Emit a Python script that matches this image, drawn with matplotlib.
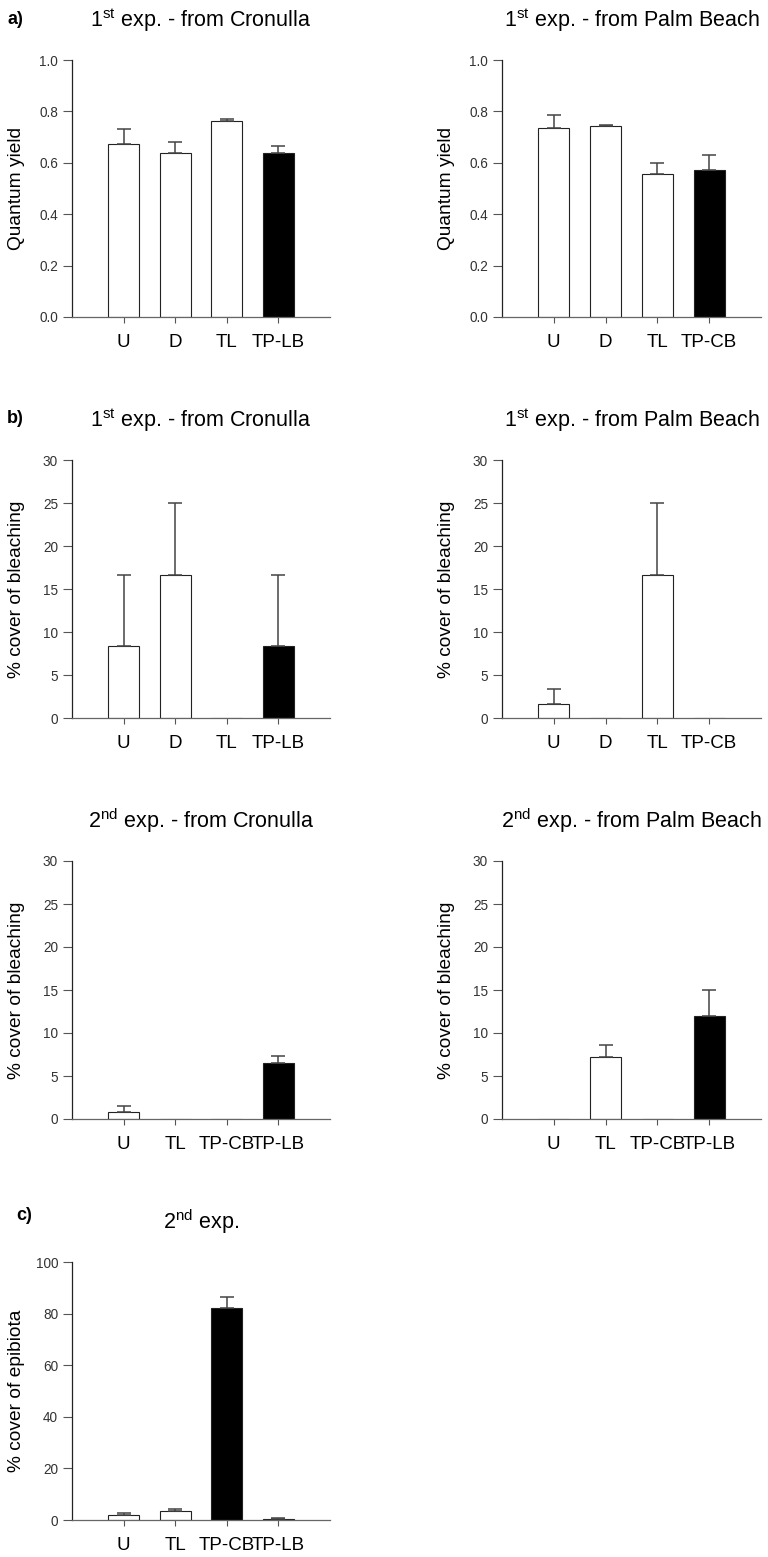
import numpy as np
import matplotlib
matplotlib.use("Agg")
import matplotlib.pyplot as plt

plt.rcParams["font.family"] = ["Liberation Sans", "DejaVu Sans"]
plt.rcParams["mathtext.fontset"] = "custom"
plt.rcParams["mathtext.rm"] = "Liberation Sans"

W, H = 768, 1557

# ---- data ----
a_cron_labels = ["U", "D", "TL", "TP-LB"]
a_cron_mean   = [0.674, 0.638, 0.762, 0.638]
a_cron_se     = [0.056, 0.044, 0.008, 0.028]

a_palm_labels = ["U", "D", "TL", "TP-CB"]
a_palm_mean   = [0.734, 0.745, 0.558, 0.571]
a_palm_se     = [0.053, 0.003, 0.042, 0.058]

b1_cron_labels = ["U", "D", "TL", "TP-LB"]
b1_cron_mean   = [8.33, 16.67, 0.0, 8.33]
b1_cron_se     = [8.33, 8.33, 0.0, 8.33]

b1_palm_labels = ["U", "D", "TL", "TP-CB"]
b1_palm_mean   = [1.67, 0.0, 16.67, 0.0]
b1_palm_se     = [1.67, 0.0, 8.33, 0.0]

b2_labels    = ["U", "TL", "TP-CB", "TP-LB"]
b2_cron_mean = [0.78, 0.0, 0.0, 6.47]
b2_cron_se   = [0.72, 0.0, 0.0, 0.90]
b2_palm_mean = [0.0, 7.17, 0.0, 12.0]
b2_palm_se   = [0.0, 1.47, 0.0, 3.0]

c_labels = ["U", "TL", "TP-CB", "TP-LB"]
c_mean   = [1.8, 3.35, 82.3, 0.5]
c_se     = [0.8, 0.95, 4.3, 0.4]


def px_axes(fig, x0, y_top, x1, y_bot):
    return fig.add_axes([x0 / W, 1 - y_bot / H, (x1 - x0) / W, (y_bot - y_top) / H])


def bar_panel(ax, labels, mean, se, title, ylabel, ymax, ystep, yfmt):
    x = np.arange(1, len(labels) + 1)
    fills = ["black" if lab.startswith("TP") else "white" for lab in labels]
    ax.bar(x, mean, width=0.6, color=fills, edgecolor="#222222", linewidth=0.8, zorder=2)
    se = np.asarray(se)
    mean = np.asarray(mean)
    keep = se > 0
    ax.errorbar(x[keep], mean[keep], yerr=[np.zeros(keep.sum()), se[keep]],
                fmt="none", ecolor="#444444", elinewidth=1.1, capsize=4.7,
                capthick=1.1, zorder=3)

    ax.set_xlim(0, 5)
    ax.set_ylim(0, ymax)
    ax.set_xticks(x)
    ax.set_xticklabels(labels, fontsize=13.5)
    yt = np.arange(0, ymax + ystep / 2, ystep)
    ax.set_yticks(yt)
    ax.set_yticklabels([yfmt.format(v) for v in yt], fontsize=9.8, color="#333333")

    for s in ("top", "right"):
        ax.spines[s].set_visible(False)
    ax.spines["left"].set_color("#222222")
    ax.spines["bottom"].set_color("#666666")
    ax.spines["left"].set_linewidth(0.9)
    ax.spines["bottom"].set_linewidth(0.9)
    ax.tick_params(axis="y", length=6.5, width=0.8, color="#555555", pad=3.5)
    ax.tick_params(axis="x", length=4, width=0.8, color="#555555", pad=8)

    ax.set_title(title, fontsize=15.5, pad=24)
    ax.set_ylabel(ylabel, fontsize=13.8)
    ax.yaxis.set_label_coords(-55 / 258, 0.5)
    ax.yaxis.label.set_va("center")
    ax.set_facecolor("none")


def main():
    fig = plt.figure(figsize=(W / 100, H / 100), dpi=100)

    left = (72, 330)
    right = (502, 761)
    rows = [(60, 317), (460, 718), (861, 1119), (1262, 1520)]

    ax = px_axes(fig, left[0], rows[0][0], left[1], rows[0][1])
    bar_panel(ax, a_cron_labels, a_cron_mean, a_cron_se,
              "1$^{\\mathrm{st}}$ exp. - from Cronulla", "Quantum yield", 1.0, 0.2, "{:.1f}")
    ax = px_axes(fig, right[0], rows[0][0], right[1], rows[0][1])
    bar_panel(ax, a_palm_labels, a_palm_mean, a_palm_se,
              "1$^{\\mathrm{st}}$ exp. - from Palm Beach", "Quantum yield", 1.0, 0.2, "{:.1f}")

    ax = px_axes(fig, left[0], rows[1][0], left[1], rows[1][1])
    bar_panel(ax, b1_cron_labels, b1_cron_mean, b1_cron_se,
              "1$^{\\mathrm{st}}$ exp. - from Cronulla", "% cover of bleaching", 30, 5, "{:.0f}")
    ax = px_axes(fig, right[0], rows[1][0], right[1], rows[1][1])
    bar_panel(ax, b1_palm_labels, b1_palm_mean, b1_palm_se,
              "1$^{\\mathrm{st}}$ exp. - from Palm Beach", "% cover of bleaching", 30, 5, "{:.0f}")

    ax = px_axes(fig, left[0], rows[2][0], left[1], rows[2][1])
    bar_panel(ax, b2_labels, b2_cron_mean, b2_cron_se,
              "2$^{\\mathrm{nd}}$ exp. - from Cronulla", "% cover of bleaching", 30, 5, "{:.0f}")
    ax = px_axes(fig, right[0], rows[2][0], right[1], rows[2][1])
    bar_panel(ax, b2_labels, b2_palm_mean, b2_palm_se,
              "2$^{\\mathrm{nd}}$ exp. - from Palm Beach", "% cover of bleaching", 30, 5, "{:.0f}")

    ax = px_axes(fig, left[0], rows[3][0], left[1], rows[3][1])
    bar_panel(ax, c_labels, c_mean, c_se,
              "2$^{\\mathrm{nd}}$ exp.", "% cover of epibiota", 100, 20, "{:.0f}")

    # panel letters
    for letter, x, y in [("a)", 7, 19), ("b)", 7, 418), ("c)", 16, 1215)]:
        fig.text(x / W, 1 - y / H, letter, fontsize=13, fontweight="bold",
                 ha="left", va="center")

    fig.savefig("out.png", dpi=100)


if __name__ == "__main__":
    main()
